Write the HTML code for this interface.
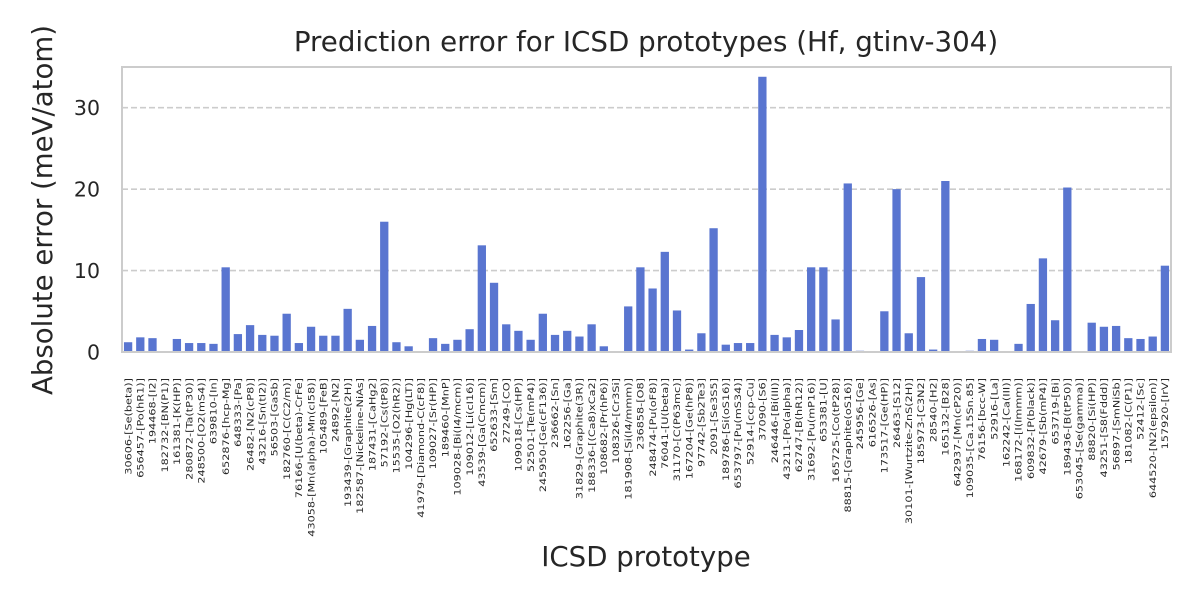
<!DOCTYPE html>
<html><head><meta charset="utf-8"><style>
body{margin:0;background:#fff}
svg{display:block;font-family:"DejaVu Sans","Liberation Sans",sans-serif}
</style></head><body>
<svg id="chart" width="1200" height="600" viewBox="0 0 1200 600" xmlns="http://www.w3.org/2000/svg">
<rect width="1200" height="600" fill="#fff"/>
<text x="646" y="51" text-anchor="middle" font-size="27.7" fill="#262626">Prediction error for ICSD prototypes (Hf, gtinv-304)</text>
<g id="grid"></g>
<g id="bars"></g>
<rect x="122" y="67" width="1049" height="285" fill="none" stroke="#cccccc" stroke-width="2"/>
<g id="yticks"></g>
<g id="xticks"></g>
<text transform="translate(52,210) rotate(-90)" text-anchor="middle" font-size="27.6" fill="#262626">Absolute error (meV/atom)</text>
<text x="646" y="566" text-anchor="middle" font-size="27.6" fill="#262626">ICSD prototype</text>
</svg>
<script>
const categories = ["30606-[Se(beta)]","656457-[Po(hR1)]","194468-[I2]","182732-[BN(P1)]","161381-[K(HP)]","280872-[Ta(tP30)]","248500-[O2(mS4)]","639810-[In]","652876-[hcp-Mg]","648333-[Pa]","26482-[N2(cP8)]","43216-[Sn(tI2)]","56503-[GaSb]","182760-[C(C2/m)]","76166-[U(beta)-CrFe]","43058-[Mn(alpha)-Mn(cI58)]","105489-[FeB]","24892-[N2]","193439-[Graphite(2H)]","182587-[Nickeline-NiAs]","187431-[CaHg2]","57192-[Cs(tP8)]","15535-[O2(hR2)]","104296-[Hg(LT)]","41979-[Diamond-C(cF8)]","109027-[Sr(HP)]","189460-[MnP]","109028-[Bi(I4/mcm)]","109012-[Li(cI16)]","43539-[Ga(Cmcm)]","652633-[Sm]","27249-[CO]","109018-[Cs(HP)]","52501-[Te(mP4)]","245950-[Ge(cF136)]","236662-[Sn]","162256-[Ga]","31829-[Graphite(3R)]","188336-[(Ca8)xCa2]","108682-[Pr(hP6)]","108326-[Cr3Si]","181908-[Si(I4/mmm)]","236858-[O8]","248474-[Pu(oF8)]","76041-[U(beta)]","31170-[C(P63mc)]","167204-[Ge(hP8)]","97742-[Sb2Te3]","2091-[Se3S5]","189786-[Si(oS16)]","653797-[Pu(mS34)]","52914-[ccp-Cu]","37090-[S6]","246446-[Bi(III)]","43211-[Po(alpha)]","62747-[B(hR12)]","31692-[Pu(mP16)]","653381-[U]","165725-[Co(tP28)]","88815-[Graphite(oS16)]","245956-[Ge]","616526-[As]","173517-[Ge(HP)]","26463-[S12]","30101-[Wurtzite-ZnS(2H)]","185973-[C3N2]","28540-[H2]","165132-[B28]","642937-[Mn(cP20)]","109035-[Ca.15Sn.85]","76156-[bcc-W]","52916-[La]","162242-[Ca(III)]","168172-[I(Immm)]","609832-[P(black)]","42679-[Sb(mP4)]","653719-[Bi]","189436-[B(tP50)]","653045-[Se(gamma)]","88820-[Si(HP)]","43251-[S8(Fddd)]","56897-[SmNiSb]","181082-[C(P1)]","52412-[Sc]","644520-[N2(epsilon)]","157920-[IrV]"];
const errors = [1.2,1.8,1.7,0,1.6,1.1,1.1,1.0,10.4,2.2,3.3,2.1,2.0,4.7,1.1,3.1,2.0,2.0,5.3,1.5,3.2,16.0,1.2,0.7,0,1.7,1.0,1.5,2.8,13.1,8.5,3.4,2.6,1.5,4.7,2.1,2.6,1.9,3.4,0.7,0,5.6,10.4,7.8,12.3,5.1,0.3,2.3,15.2,0.9,1.1,1.1,33.8,2.1,1.8,2.7,10.4,10.4,4.0,20.7,0.15,0,5.0,20.0,2.3,9.2,0.3,21.0,0,0.15,1.6,1.5,0,1.0,5.9,11.5,3.9,20.2,0,3.6,3.1,3.2,1.7,1.6,1.9,10.6];
const yTicks = [0,10,20,30];
const yMax = 35.0;
const X0=122, X1=1171, Y0=352, Y1=67;
const ns="http://www.w3.org/2000/svg";
const band=(X1-X0)/categories.length;
function xPos(i){return X0+band*i;}
function yPos(v){return Y0-(v/yMax)*(Y0-Y1);}
const grid=document.getElementById('grid'), bars=document.getElementById('bars'), yt=document.getElementById('yticks'), xt=document.getElementById('xticks');
yTicks.forEach(t=>{
  const y=yPos(t);
  if(t>0){
    const l=document.createElementNS(ns,'line');
    
    
    l.setAttribute('x1',X0);l.setAttribute('x2',X1);l.setAttribute('y1',y);l.setAttribute('y2',y);
    l.setAttribute('stroke','#cccccc');l.setAttribute('stroke-width','1.6');l.setAttribute('stroke-dasharray','6,3');
    grid.appendChild(l);
  }
  const tx=document.createElementNS(ns,'text');
  
  
  tx.setAttribute('x',X0-22);tx.setAttribute('y',y+7.5);tx.setAttribute('text-anchor','end');
  tx.setAttribute('font-size','20.5');tx.setAttribute('fill','#262626');
  tx.textContent=t;yt.appendChild(tx);
});
const bw=band*0.68;
categories.forEach((c,i)=>{
  const v=errors[i];
  const r=document.createElementNS(ns,'rect');
  
  
  const cx=xPos(i)+band/2;
  r.setAttribute('x',cx-bw/2);r.setAttribute('width',bw);
  r.setAttribute('y',yPos(v));r.setAttribute('height',Math.max(0,Y0-yPos(v)));
  r.setAttribute('fill','#5975d0');
  bars.appendChild(r);
  const t=document.createElementNS(ns,'text');
  
  
  t.setAttribute('transform','translate('+(cx+3.2)+','+(Y0+26)+') rotate(-90) scale(1.25,1)');
  t.setAttribute('text-anchor','end');t.setAttribute('font-size','9');t.setAttribute('fill','#262626');
  t.textContent=c;xt.appendChild(t);
});
</script>
</body></html>
